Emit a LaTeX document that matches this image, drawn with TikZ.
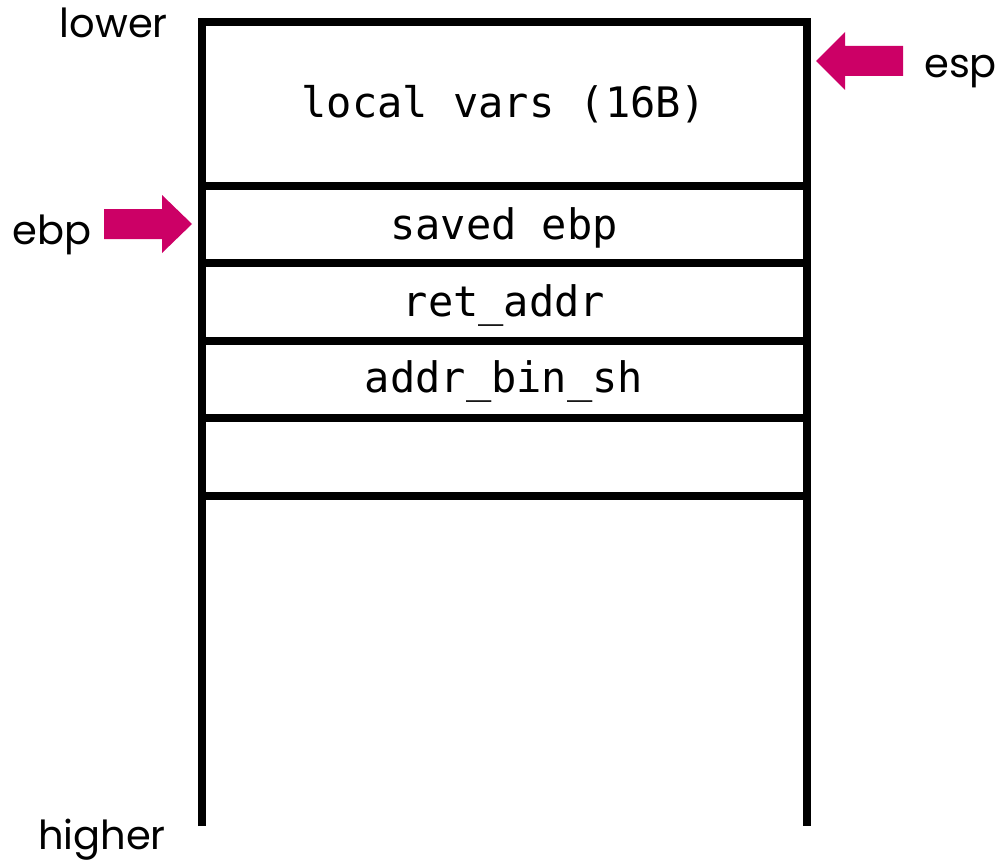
\documentclass[tikz,border=0pt]{standalone}
\usepackage{fontspec}
\setmainfont{Poppins}
\setmonofont{DejaVu Sans Mono}
\definecolor{ptr}{RGB}{204,0,102}
\begin{document}
\begin{tikzpicture}[x=1pt,y=-1pt,
    wall/.style={line width=8pt,line join=miter,line cap=butt},
    cell/.style={font=\fontsize{42}{48}\selectfont\ttfamily,inner sep=0pt,anchor=base},
    side/.style={font=\fontsize{40}{46}\selectfont,inner sep=0pt},
    pointer/.style={fill=ptr}]
\useasboundingbox (0,0) rectangle (1004,864);

% stack frame outline
\coordinate (bl) at (201.5,826);
\coordinate (tl) at (201.5,21.7);
\coordinate (tr) at (806.7,21.7);
\coordinate (br) at (806.7,826);
\draw[wall] (bl) -- (tl) -- (tr) -- (br);

% slot separators
\foreach \y in {185.5,263,340.5,418,495.5}
  \draw[wall] (201.5,\y) -- (806.7,\y);

% slot contents
\node[cell] (locals) at (504,117.7) {local vars (16B)};
\node[cell] (savedebp) at (504,239.3) {saved ebp};
\node[cell] (ret) at (504,316) {ret\_addr};
\node[cell] (binsh) at (504,392.7) {addr\_bin\_sh};

% address direction labels
\node[side,anchor=base east] (lower) at (168,37.3) {lower};
\node[side,anchor=base east] (higher) at (166,849) {higher};

% register labels
\node[side,anchor=base west] (esp) at (924,77.7) {esp};
\node[side,anchor=base east] (ebp) at (92,244) {ebp};

% register pointers
\fill[pointer] (816,61) -- (845,32) -- (845,46) -- (903,46) -- (903,76)
  -- (845,76) -- (845,90) -- cycle;
\fill[pointer] (192,224) -- (162,195) -- (162,209) -- (104,209) -- (104,239)
  -- (162,239) -- (162,253) -- cycle;
\end{tikzpicture}
\end{document}
